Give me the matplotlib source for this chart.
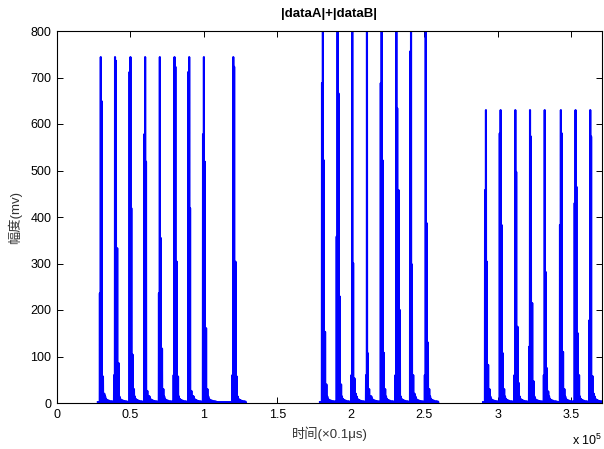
import matplotlib
matplotlib.use("Agg")
import matplotlib.pyplot as plt
from matplotlib.ticker import FuncFormatter, MultipleLocator

plt.rcParams['font.family'] = ['Liberation Sans', 'Noto Sans CJK SC', 'DejaVu Sans']
plt.rcParams['mathtext.fontset'] = 'custom'
plt.rcParams['mathtext.rm'] = 'Liberation Sans'

# pulse centres (time, x0.1us) of the three bursts
group1_t = [29800, 39500, 50000, 60000, 70000, 80000, 90000, 100000, 120000]
group2_t = [181000, 191000, 201000, 211000, 221000, 231000, 241000, 251000]
group3_t = [292000, 302000, 312000, 322000, 332000, 343000, 353000, 363000]

# sample heights around each peak (mv): before, peak, after1, after2, after3
group1_amp = [
    [236, 744, 649, 57, 20],
    [60, 744, 736, 333, 86],
    [712, 744, 419, 104, 30],
    [578, 744, 519, 26, 15],
    [236, 744, 355, 117, 30],
    [60, 744, 723, 304, 57],
    [712, 744, 419, 26, 15],
    [578, 744, 519, 161, 30],
    [60, 744, 723, 304, 57],
]
group2_amp = [
    [688, 960, 522, 153, 40],
    [358, 960, 666, 229, 40],
    [60, 960, 301, 53, 20],
    [60, 960, 107, 30, 15],
    [688, 960, 522, 108, 30],
    [60, 960, 634, 458, 200],
    [756, 960, 298, 60, 20],
    [60, 960, 387, 130, 30],
]
group3_amp = [
    [458, 630, 304, 82, 30],
    [580, 630, 383, 107, 30],
    [60, 630, 497, 164, 43],
    [121, 630, 573, 215, 47],
    [60, 630, 282, 75, 25],
    [383, 630, 580, 110, 30],
    [430, 630, 465, 150, 60],
    [178, 630, 573, 58, 20],
]
# time offsets of those samples from the pulse centre
sample_off = [-600, 0, 600, 1500, 2400]
# small ringing after each pulse
tail_off = [3000, 3500, 4100, 4800, 5600, 6500, 7500, 8400]
tail_amp = [14, 9, 7, 6, 5, 4, 4, 3]
half_w = 120


def burst(times, amps):
    xs, ys = [times[0] - 2000], [2]
    for t, a in zip(times, amps):
        offs = sample_off + tail_off
        vals = a + tail_amp
        for o, v in zip(offs, vals):
            xs += [t + o - half_w, t + o, t + o + half_w]
            ys += [2, v, 2]
    return xs, ys


fig = plt.figure(figsize=(6.04, 4.49), dpi=100)
ax = fig.add_axes([57 / 604, 46 / 449, 545 / 604, 372 / 449])

for times, amps in [(group1_t, group1_amp), (group2_t, group2_amp), (group3_t, group3_amp)]:
    x, y = burst(times, amps)
    ax.plot(x, y, color='#0000ff', lw=1.5, clip_on=True)

ax.set_xlim(0, 371000)
ax.set_ylim(0, 800)
ax.xaxis.set_major_locator(MultipleLocator(50000))
ax.yaxis.set_major_locator(MultipleLocator(100))
ax.xaxis.set_major_formatter(FuncFormatter(lambda v, p: ('%g' % (v / 1e5))))
ax.tick_params(direction='in', top=True, right=True, length=4, width=0.7,
               labelsize=9, pad=4)
for s in ax.spines.values():
    s.set_linewidth(0.8)

ax.set_title('|dataA|+|dataB|', fontsize=9.5, fontweight='bold', pad=10)
ax.set_xlabel('时间(×0.1μs)', fontsize=9.5, color='#333333',
              family=['Liberation Sans', 'Noto Sans CJK SC'], labelpad=4)
ax.set_ylabel('幅度(mv)', fontsize=9.5, color='#333333',
              family=['Liberation Sans', 'Noto Sans CJK SC'], labelpad=6)
fig.text(572 / 604, 1 - 445 / 449, r'x 10$^{5}$', fontsize=9, va='baseline')

fig.savefig('out.png', dpi=100)
